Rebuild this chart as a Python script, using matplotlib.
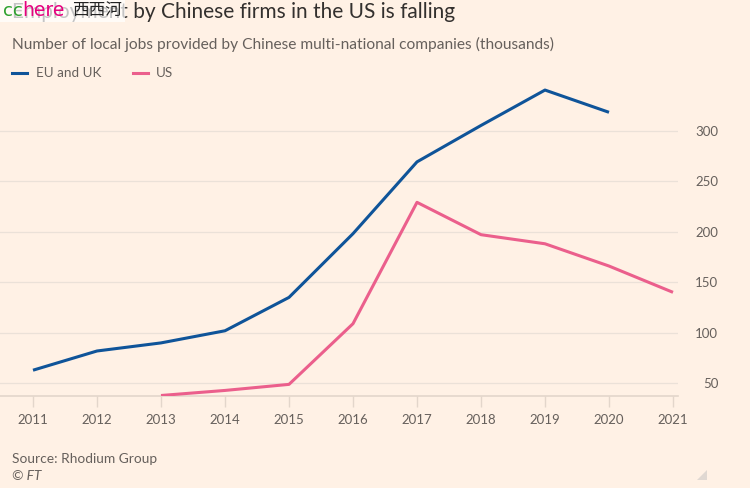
import matplotlib
matplotlib.use("Agg")
import matplotlib.pyplot as plt
from matplotlib.patches import Rectangle, Polygon
from matplotlib.lines import Line2D

years_eu = [2011, 2012, 2013, 2014, 2015, 2016, 2017, 2018, 2019, 2020]
eu_uk = [63, 82, 90, 102, 135, 198, 269, 305, 340, 318]
years_us = [2013, 2014, 2015, 2016, 2017, 2018, 2019, 2020, 2021]
us = [38, 43, 49, 109, 229, 197, 188, 166, 140]
xticks = list(range(2011, 2022))
yticks = [50, 100, 150, 200, 250, 300]

BG = "#fff1e5"
BLUE = "#0f5499"
PINK = "#eb5f8c"
GRID = "#ebe1d8"
TXT = "#66605c"
FONT = "Lato"

plt.rcParams['font.family'] = [FONT, 'DejaVu Sans']

W, H = 750, 488
fig = plt.figure(figsize=(7.5, 4.88), dpi=100, facecolor=BG)

def fx(px):
    return px / W
def fy(py):
    return 1 - py / H

ax_l, ax_r, ax_t, ax_b = 0, 678, 85, 396
ax = fig.add_axes([fx(ax_l), fy(ax_b), (ax_r - ax_l) / W, (ax_b - ax_t) / H])
ax.set_facecolor(BG)

ax.plot(years_eu, eu_uk, color=BLUE, lw=2.2, solid_capstyle='butt', zorder=3)
ax.plot(years_us, us, color=PINK, lw=2.2, solid_capstyle='butt', zorder=3)

x0 = 2011 - 33 / 64
x1 = 2011 + (678 - 33) / 64
ax.set_xlim(x0, x1)
ax.set_ylim(37.5, 345)

for s in ax.spines.values():
    s.set_visible(False)
ax.axhline(37.5, color="#e3d6cb", lw=1.2, zorder=1, clip_on=False)

ax.set_yticks(yticks)
ax.yaxis.tick_right()
ax.tick_params(axis='y', length=0, pad=29, labelsize=9.5, labelcolor=TXT)
for lab in ax.get_yticklabels():
    lab.set_horizontalalignment('right')
ax.grid(axis='y', color=GRID, lw=0.9, zorder=0)

ax.set_xticks(xticks)
ax.tick_params(axis='x', length=8, width=1, color="#e3d6cb", pad=5,
               labelsize=9.5, labelcolor=TXT)

# Title
fig.text(fx(12), fy(12), "Employment by Chinese firms in the US is falling",
         fontsize=15, color="#33302e", va='center', ha='left')
# Overlay box
fig.patches.append(Rectangle((0, fy(22)), fx(125), 22 / H, transform=fig.transFigure,
                             facecolor='white', alpha=0.72, edgecolor='none', zorder=5))
fig.text(fx(3), fy(16.5), "cc", fontsize=13, color="#2ca02c", va='baseline', ha='left',
         family='DejaVu Sans', zorder=6)
fig.text(fx(22.5), fy(16.5), "here", fontsize=13.5, color="#e6007e", va='baseline', ha='left',
         family='DejaVu Sans', zorder=6)
fig.text(fx(72), fy(11), "西西河", fontsize=12, color="#222222", va='center', ha='left',
         family=['Noto Sans CJK SC', 'DejaVu Sans'], zorder=6)

# Subtitle
fig.text(fx(12), fy(44), "Number of local jobs provided by Chinese multi-national companies (thousands)",
         fontsize=11.2, color=TXT, va='center', ha='left')

# Legend
fig.lines.append(Line2D([fx(12), fx(27)], [fy(73), fy(73)], transform=fig.transFigure,
                        color=BLUE, lw=2.2))
fig.text(fx(36), fy(73), "EU and UK", fontsize=9.7, color=TXT, va='center', ha='left')
fig.lines.append(Line2D([fx(133), fx(148)], [fy(73), fy(73)], transform=fig.transFigure,
                        color=PINK, lw=2.2))
fig.text(fx(156), fy(73), "US", fontsize=9.7, color=TXT, va='center', ha='left')

# Source
fig.text(fx(12), fy(459), "Source: Rhodium Group", fontsize=9.9, color=TXT, va='center', ha='left')
fig.text(fx(12), fy(476), "© FT", fontsize=9.9, color=TXT, va='center', ha='left', style='italic')

fig.patches.append(Polygon([(fx(707), fy(470)), (fx(707), fy(480)), (fx(697), fy(480))],
                           closed=True, transform=fig.transFigure, facecolor="#e0d8d2",
                           edgecolor='none'))

fig.savefig("out.png", dpi=100, facecolor=BG)
